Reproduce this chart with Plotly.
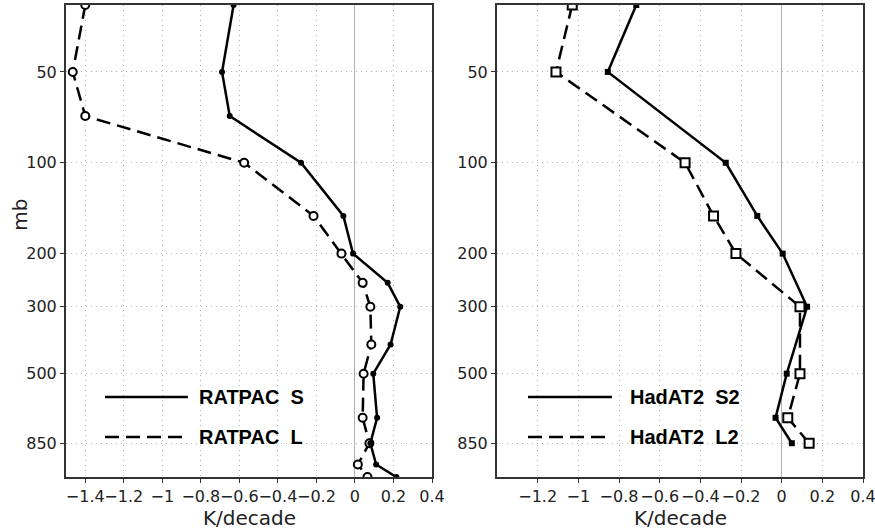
import numpy as np
import plotly.graph_objects as go

# pressure levels (mb); 1100 is the surface point drawn at the bottom edge
p_ratpac = [30, 50, 70, 100, 150, 200, 250, 300, 400, 500, 700, 850, 1000, 1100]
ratpac_s = [-0.63, -0.69, -0.65, -0.28, -0.06, -0.01, 0.17, 0.235, 0.185, 0.095, 0.115, 0.08, 0.11, 0.215]
ratpac_l = [-1.40, -1.465, -1.40, -0.575, -0.215, -0.07, 0.04, 0.08, 0.085, 0.045, 0.04, 0.075, 0.015, 0.065]

p_hadat = [30, 50, 100, 150, 200, 300, 500, 700, 850]
hadat_s2 = [-0.715, -0.855, -0.275, -0.12, 0.005, 0.125, 0.025, -0.03, 0.05]
hadat_l2 = [-1.03, -1.11, -0.475, -0.335, -0.225, 0.09, 0.09, 0.03, 0.135]

ytick_vals = [50, 100, 200, 300, 500, 850]
xticks_left = [-1.4, -1.2, -1, -0.8, -0.6, -0.4, -0.2, 0, 0.2, 0.4]
xticks_right = [-1.2, -1, -0.8, -0.6, -0.4, -0.2, 0, 0.2, 0.4]

DASH = "14px,7px"
LW = 2.5


def fmt(v):
    s = f"{v:g}"
    return s.replace("-", "\u2212")


fig = go.Figure()

# left panel: RATPAC
fig.add_trace(go.Scatter(x=ratpac_l, y=p_ratpac, mode="lines+markers",
                         line=dict(color="black", width=LW, dash=DASH),
                         marker=dict(symbol="circle", size=8, color="white",
                                     line=dict(color="black", width=2)),
                         xaxis="x", yaxis="y", showlegend=False))
fig.add_trace(go.Scatter(x=ratpac_s, y=p_ratpac, mode="lines+markers",
                         line=dict(color="black", width=LW),
                         marker=dict(symbol="circle", size=6, color="black"),
                         xaxis="x", yaxis="y", showlegend=False))

# right panel: HadAT2
fig.add_trace(go.Scatter(x=hadat_l2, y=p_hadat, mode="lines+markers",
                         line=dict(color="black", width=LW, dash=DASH),
                         marker=dict(symbol="square", size=9, color="white",
                                     line=dict(color="black", width=2)),
                         xaxis="x2", yaxis="y2", showlegend=False))
fig.add_trace(go.Scatter(x=hadat_s2, y=p_hadat, mode="lines+markers",
                         line=dict(color="black", width=LW),
                         marker=dict(symbol="square", size=6, color="black"),
                         xaxis="x2", yaxis="y2", showlegend=False))

tickfont = dict(family="DejaVu Sans", size=16, color="#222")
grid = dict(showgrid=True, gridcolor="#b4b4b4", griddash="1px,4px", gridwidth=1)
common_x = dict(showline=True, mirror=True, linewidth=2, linecolor="#333",
                ticks="outside", ticklen=4, tickcolor="#333", tickfont=tickfont,
                tickangle=0, automargin=False, ticklabeloverflow="allow",
                zeroline=True, zerolinecolor="#b0b0b0", zerolinewidth=1, **grid)
common_y = dict(type="log", range=[np.log10(1100), np.log10(30)],
                tickvals=ytick_vals, ticktext=[str(v) for v in ytick_vals],
                showline=True, mirror=True, linewidth=2, linecolor="#333",
                ticks="outside", ticklen=4, tickcolor="#333", tickfont=tickfont,
                automargin=False, zeroline=False, **grid)

W = 875
H = 531
l, r, t, b = 66, 12, 5, 54
pw = W - l - r

fig.update_layout(
    width=W, height=H,
    margin=dict(l=l, r=r, t=t, b=b, autoexpand=False),
    plot_bgcolor="white", paper_bgcolor="white",
    xaxis=dict(domain=[0, 366 / pw], range=[-1.5, 0.4], tickvals=xticks_left,
               ticktext=[fmt(v) for v in xticks_left], anchor="y", **common_x),
    yaxis=dict(domain=[0, 1], anchor="x", **common_y),
    xaxis2=dict(domain=[(497 - l) / pw, 1], range=[-1.4, 0.4], tickvals=xticks_right,
                ticktext=[fmt(v) for v in xticks_right], anchor="y2", **common_x),
    yaxis2=dict(domain=[0, 1], anchor="x2", **common_y),
)

# legends drawn inside each panel
legfont = dict(family="Liberation Sans", size=20, color="black")
legend_rows = [
    ("x", "y", 0.1066, 0.333, 0.358, ["RATPAC\u00a0\u00a0S", "RATPAC\u00a0\u00a0L"]),
    ("x2", "y2", 0.0847, 0.314, 0.358, ["HadAT2\u00a0\u00a0S2", "HadAT2\u00a0\u00a0L2"]),
]
for xa, ya, x0, x1, xt, labels in legend_rows:
    for yy, lab, dash in zip([0.1695, 0.0847], labels, ["solid", DASH]):
        fig.add_shape(type="line", xref=f"{xa} domain", yref=f"{ya} domain",
                      x0=x0, x1=x1, y0=yy, y1=yy,
                      line=dict(color="black", width=LW, dash=dash))
        fig.add_annotation(xref=f"{xa} domain", yref=f"{ya} domain", x=xt, y=yy,
                           text=f"<b>{lab}</b>", showarrow=False, xanchor="left",
                           yanchor="middle", font=legfont)

# axis titles
titlefont = dict(family="DejaVu Sans", size=20, color="#222")
for xa in ["x", "x2"]:
    fig.add_annotation(xref=f"{xa} domain", yref="paper", x=0.5, y=-0.057,
                       yanchor="top", text="K/decade", showarrow=False, font=titlefont)
fig.add_annotation(xref="paper", yref="paper", x=-0.058, y=(H - b - 215) / (H - t - b),
                   text="mb", textangle=-90, showarrow=False, font=titlefont,
                   xanchor="center", yanchor="middle")

fig.write_html("out.html", config={"displayModeBar": False},
               post_script="document.body.style.margin='0';")
